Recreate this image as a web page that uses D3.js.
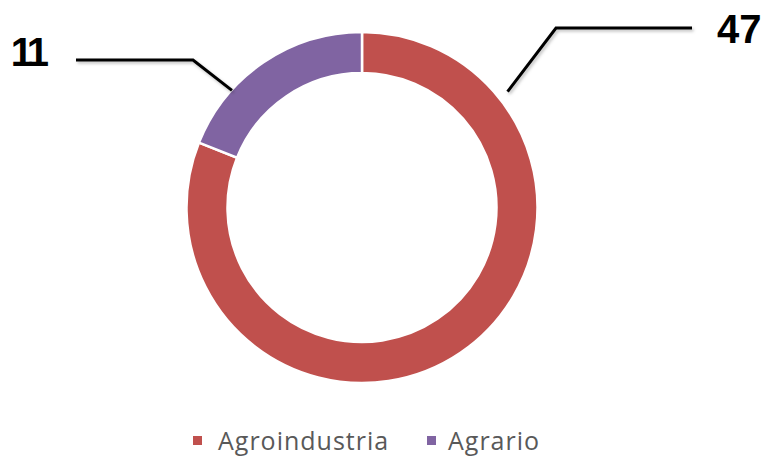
<!DOCTYPE html>
<html>
<head>
<meta charset="utf-8">
<script src="https://cdn.jsdelivr.net/npm/d3@7"></script>
<style>
  html, body { margin: 0; padding: 0; background: #fff; }
  svg { display: block; }
</style>
</head>
<body>
<svg id="chart" width="762" height="456"></svg>
<script>
// ---- Data ----
const categories = ["Agroindustria", "Agrario"];
const values = [47, 11];
const colors = ["#C0504D", "#8064A2"];

// ---- Layout ----
const W = 762, H = 456;
const cx = 362, cy = 207.5;
const outerR = 175.5, innerR = 134.5;

const svg = d3.select("#chart");

const defs = svg.append("defs");
const f = defs.append("filter").attr("id", "sh").attr("x", "-20%").attr("y", "-50%").attr("width", "140%").attr("height", "200%");
f.append("feDropShadow").attr("dx", 1.5).attr("dy", 2).attr("stdDeviation", 1.5).attr("flood-color", "#000").attr("flood-opacity", 0.25);

const pie = d3.pie().sort(null).value(d => d)
  .startAngle(0).endAngle(2 * Math.PI);
const arcs = pie(values);
const arc = d3.arc().innerRadius(innerR).outerRadius(outerR);

const g = svg.append("g").attr("transform", `translate(${cx},${cy})`);
g.selectAll("path.slice").data(arcs).enter().append("path")
  .attr("class", "slice")
  .attr("d", arc)
  .attr("fill", (d, i) => colors[i])
  .attr("stroke", "#fff")
  .attr("stroke-width", 2.5);

// Leader label layout (positions relative to the arc)
const labelLayout = [
  { angleDeg: 51.5, r: 186, elbow: [556, 28], endX: 692, textX: 717, textY: 43, anchor: "start", spacing: 0 },
  { angleDeg: 312, r: 175, elbow: [193, 60], endX: 76, textX: 45, textY: 66, anchor: "end", spacing: -4 }
];

labelLayout.forEach((L, i) => {
  const a = L.angleDeg * Math.PI / 180;
  const sx = cx + L.r * Math.sin(a);
  const sy = cy - L.r * Math.cos(a);
  svg.append("path")
    .attr("d", d3.line()([[sx, sy], L.elbow, [L.endX, L.elbow[1]]]))
    .attr("fill", "none")
    .attr("stroke", "#000")
    .attr("stroke-width", 3)
    .attr("filter", "url(#sh)");
  svg.append("text")
    .attr("x", L.textX).attr("y", L.textY)
    .attr("text-anchor", L.anchor)
    .attr("font-family", "'Liberation Sans', Arial, sans-serif")
    .attr("font-weight", "bold")
    .attr("font-size", 40)
    .attr("letter-spacing", L.spacing)
    .attr("fill", "#000")
    .text(values[i]);
});

// Legend
const legendItems = [
  { sq: 193, tx: 218 },
  { sq: 427, tx: 448 }
];
const lg = svg.append("g");
categories.forEach((c, i) => {
  lg.append("rect")
    .attr("x", legendItems[i].sq).attr("y", 436)
    .attr("width", 9).attr("height", 9)
    .attr("fill", colors[i]);
  lg.append("text")
    .attr("x", legendItems[i].tx).attr("y", 450)
    .attr("font-family", "'Open Sans', sans-serif")
    .attr("font-size", 25)
    .attr("letter-spacing", 1)
    .attr("fill", "#595959")
    .text(c);
});
</script>
</body>
</html>
